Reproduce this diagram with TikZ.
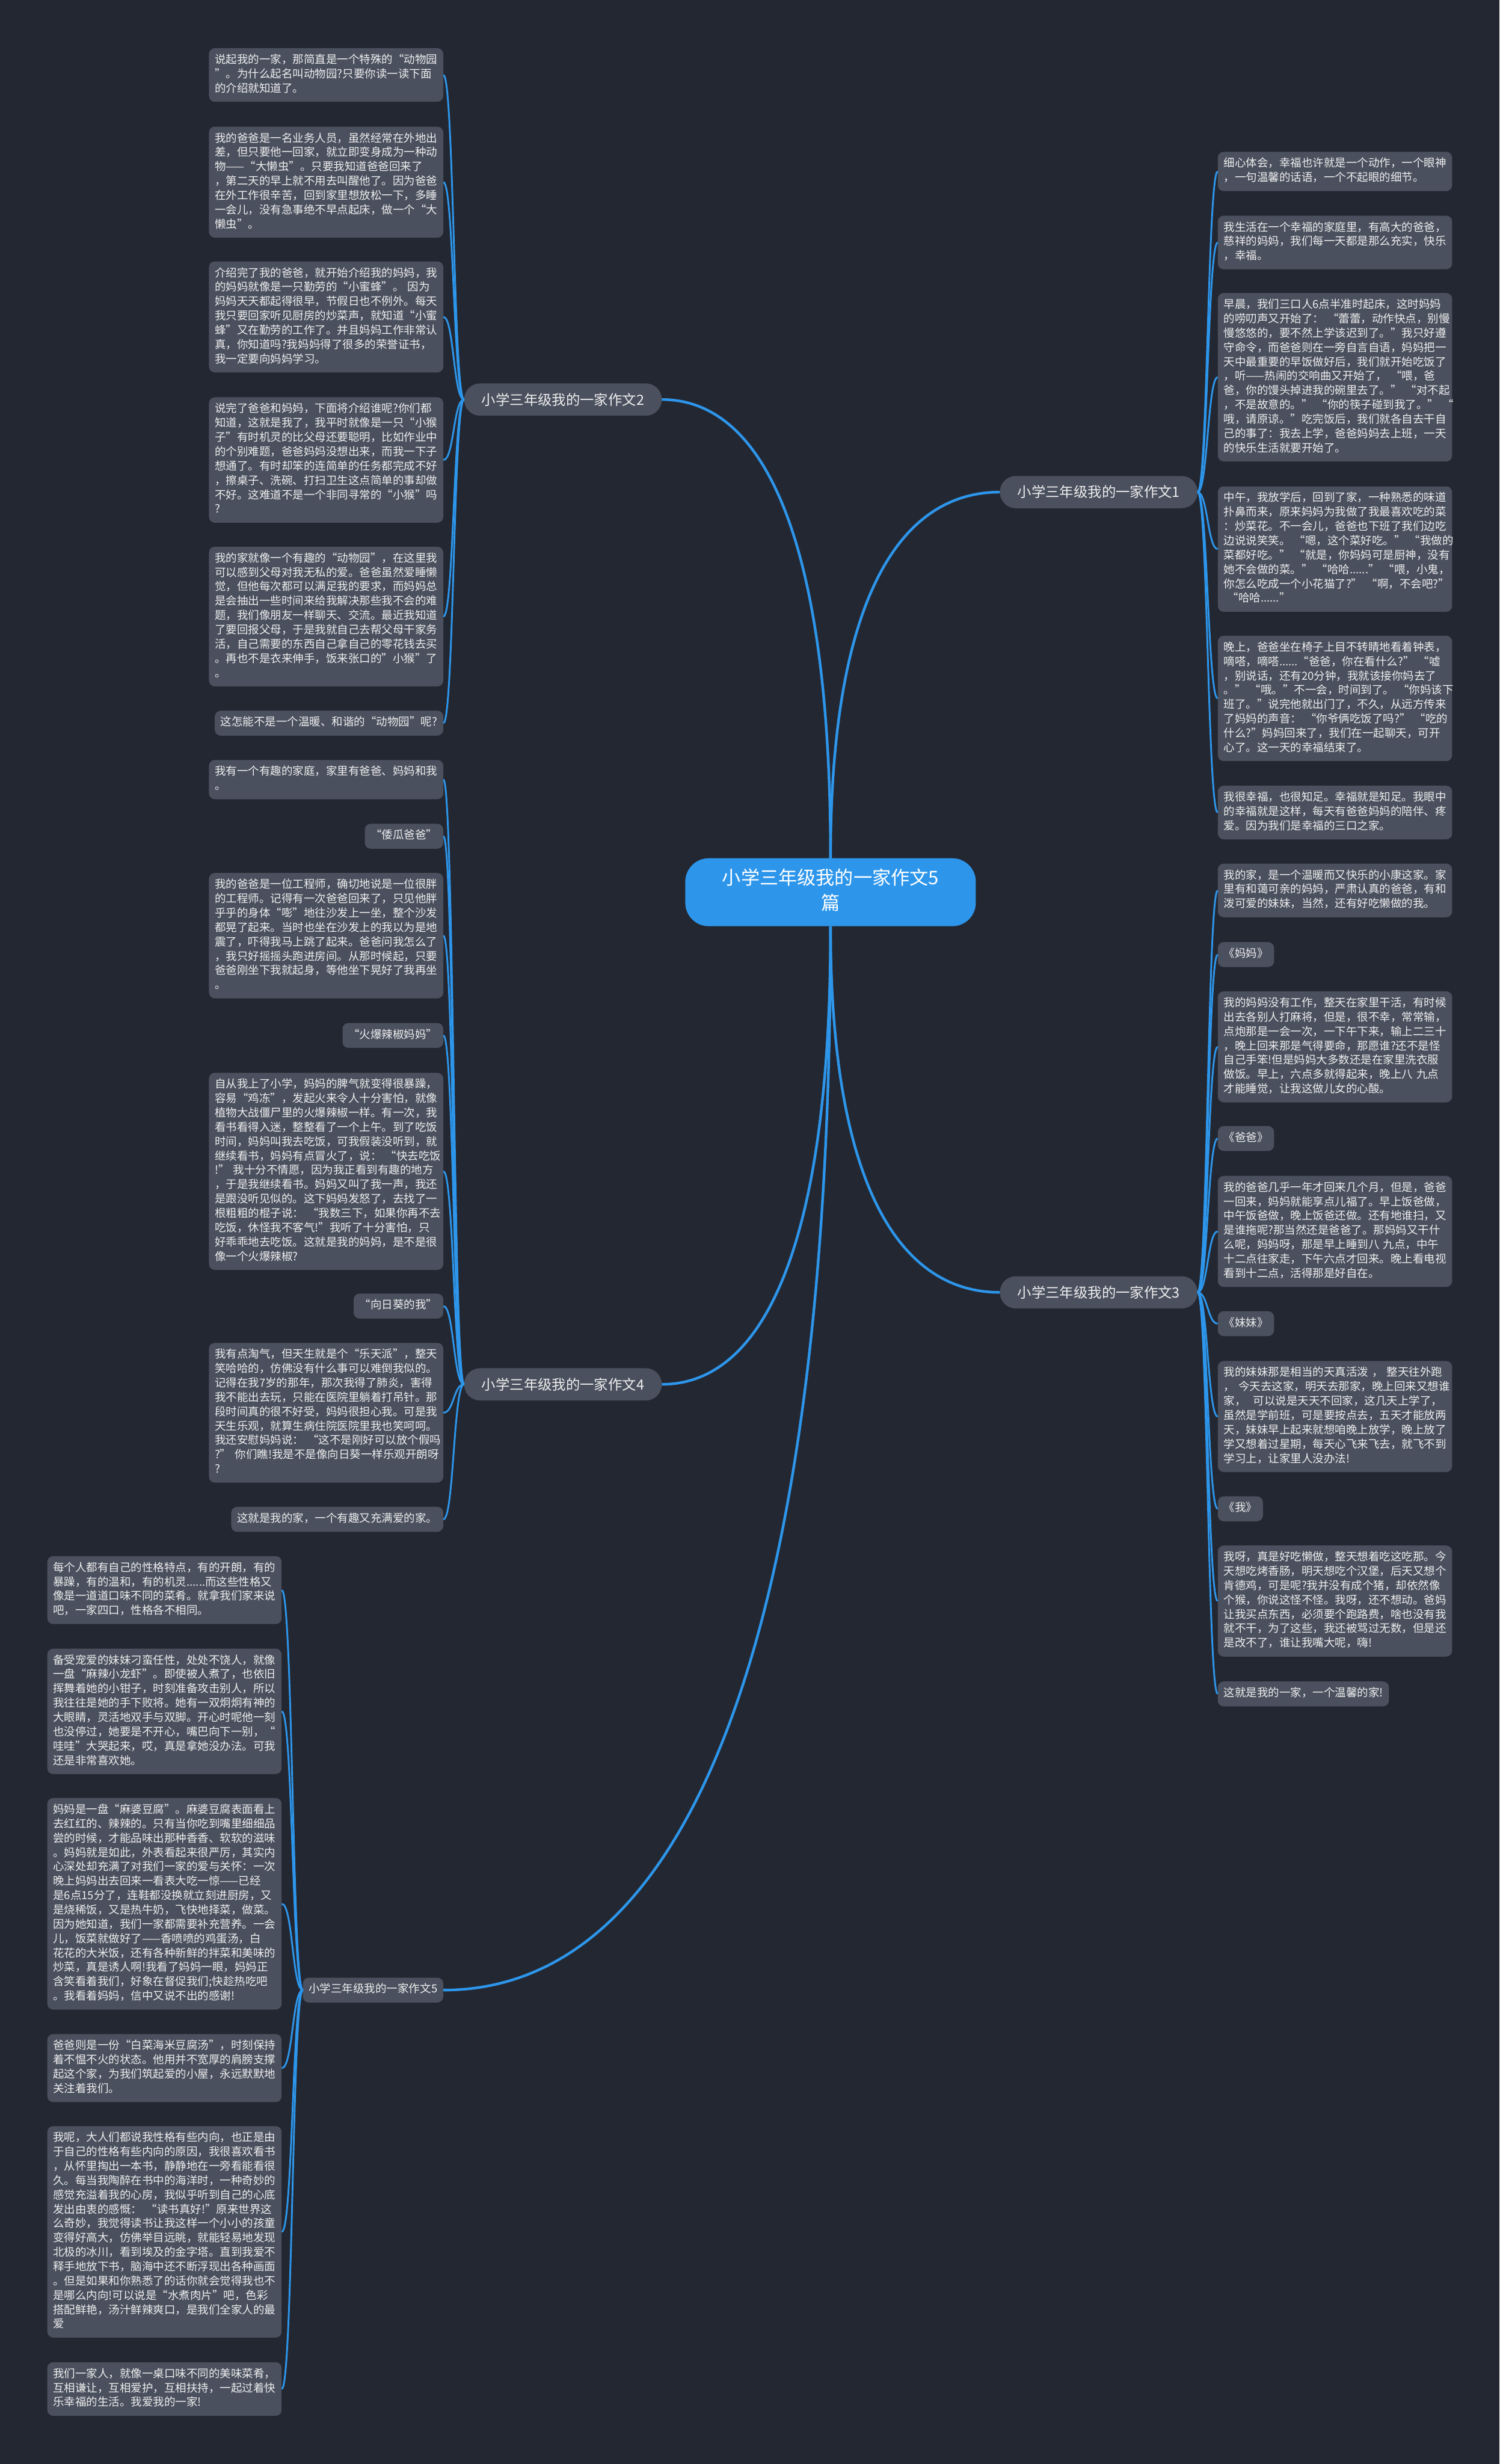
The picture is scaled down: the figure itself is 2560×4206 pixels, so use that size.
\documentclass[tikz,border=0pt]{standalone}
\usepackage{fontspec}
\setmainfont{Noto Sans CJK SC}
\usepackage{xcolor}
\usepackage{tikz}
\usetikzlibrary{calc}

\definecolor{bgdark}{HTML}{232731}
\definecolor{cardgray}{HTML}{4A505E}
\definecolor{linkblue}{HTML}{2D96EB}
\definecolor{inkwhite}{HTML}{EEEEEE}

\begin{document}
\begin{tikzpicture}[x=1pt, y=-1pt,
  card/.style={fill=cardgray, text=inkwhite, rounded corners=10pt,
    inner xsep=10pt, inner ysep=9pt, font=\fontsize{19pt}{24.5pt}\selectfont,
    execute at begin node=\strut, execute at end node=\strut},
  para/.style={card, text width=380pt, align=left},
  branch/.style={fill=cardgray, text=inkwhite, rounded corners=27pt,
    minimum height=55pt, inner xsep=30pt, inner ysep=0pt,
    font=\fontsize{24pt}{30pt}\selectfont},
  trunk/.style={draw=linkblue, line width=4.5pt},
  twig/.style={draw=linkblue, line width=3pt}]
% Coordinate model: one unit = one pixel of the 2560 x 4206 sheet, y downwards.
\def\lx{757}  % right edge of the left column cards
\def\rx{2079} % left edge of the right column cards
\def\dx{481}  % right edge of the bottom left cards

% --- Sheet ---
\useasboundingbox (0,0) rectangle (2560,4206);
\fill[bgdark] (0,0) rectangle (2560,4206);

% --- Root ---
\node[fill=linkblue, text=white, rounded corners=40pt, text width=380pt, align=center,
  inner xsep=58pt, inner ysep=15pt, font=\fontsize{32pt}{43pt}\selectfont,
  execute at begin node=\strut, execute at end node=\strut]
  (root) at (1418,1523) {小学三年级我的一家作文5\\篇};

% --- Branches ---
\node[branch, anchor=west] (p1) at (1707,840) {小学三年级我的一家作文1};
\node[branch, anchor=east] (p2) at (1130,682) {小学三年级我的一家作文2};
\node[branch, anchor=west] (p3) at (1707,2206) {小学三年级我的一家作文3};
\node[branch, anchor=east] (p4) at (1130,2363) {小学三年级我的一家作文4};
\node[card, anchor=east] (p5) at (757,3397) {小学三年级我的一家作文5};

% --- Essay 2 (left, top) ---
\node[para, anchor=north east] (l1) at (\lx,82) {说起我的一家，那简直是一个特殊的“动物园\\”。为什么起名叫动物园?只要你读一读下面\\的介绍就知道了。};
\node[para, anchor=north east] (l2) at (\lx,216) {我的爸爸是一名业务人员，虽然经常在外地出\\差，但只要他一回家，就立即变身成为一种动\\物——“大懒虫”。只要我知道爸爸回来了\\，第二天的早上就不用去叫醒他了。因为爸爸\\在外工作很辛苦，回到家里想放松一下，多睡\\一会儿，没有急事绝不早点起床，做一个“大\\懒虫”。};
\node[para, anchor=north east] (l3) at (\lx,446) {介绍完了我的爸爸，就开始介绍我的妈妈，我\\的妈妈就像是一只勤劳的“小蜜蜂”。~因为\\妈妈天天都起得很早，节假日也不例外。每天\\我只要回家听见厨房的炒菜声，就知道“小蜜\\蜂”又在勤劳的工作了。并且妈妈工作非常认\\真，你知道吗?我妈妈得了很多的荣誉证书，\\我一定要向妈妈学习。};
\node[para, anchor=north east] (l4) at (\lx,678) {说完了爸爸和妈妈，下面将介绍谁呢?你们都\\知道，这就是我了，我平时就像是一只“小猴\\子”有时机灵的比父母还要聪明，比如作业中\\的个别难题，爸爸妈妈没想出来，而我一下子\\想通了。有时却笨的连简单的任务都完成不好\\，擦桌子、洗碗、打扫卫生这点简单的事却做\\不好。这难道不是一个非同寻常的“小猴”吗\\?};
\node[para, anchor=north east] (l5) at (\lx,933) {我的家就像一个有趣的“动物园”，在这里我\\可以感到父母对我无私的爱。爸爸虽然爱睡懒\\觉，但他每次都可以满足我的要求，而妈妈总\\是会抽出一些时间来给我解决那些我不会的难\\题，我们像朋友一样聊天、交流。最近我知道\\了要回报父母，于是我就自己去帮父母干家务\\活，自己需要的东西自己拿自己的零花钱去买\\。再也不是衣来伸手，饭来张口的"小猴”了\\。};
\node[card, anchor=north east] (l6) at (\lx,1213) {这怎能不是一个温暖、和谐的“动物园”呢?};

% --- Essay 4 (left, middle) ---
\node[para, anchor=north east] (m1) at (\lx,1297) {我有一个有趣的家庭，家里有爸爸、妈妈和我\\。};
\node[card, anchor=north east] (m2) at (\lx,1406) {“倭瓜爸爸”};
\node[para, anchor=north east] (m3) at (\lx,1490) {我的爸爸是一位工程师，确切地说是一位很胖\\的工程师。记得有一次爸爸回来了，只见他胖\\乎乎的身体“嘭”地往沙发上一坐，整个沙发\\都晃了起来。当时也坐在沙发上的我以为是地\\震了，吓得我马上跳了起来。爸爸问我怎么了\\，我只好摇摇头跑进房间。从那时候起，只要\\爸爸刚坐下我就起身，等他坐下晃好了我再坐\\。};
\node[card, anchor=north east] (m4) at (\lx,1746) {“火爆辣椒妈妈”};
\node[para, anchor=north east] (m5) at (\lx,1831) {自从我上了小学，妈妈的脾气就变得很暴躁，\\容易“鸡冻”，发起火来令人十分害怕，就像\\植物大战僵尸里的火爆辣椒一样。有一次，我\\看书看得入迷，整整看了一个上午。到了吃饭\\时间，妈妈叫我去吃饭，可我假装没听到，就\\继续看书，妈妈有点冒火了，说：~“快去吃饭\\!”~我十分不情愿，因为我正看到有趣的地方\\，于是我继续看书。妈妈又叫了我一声，我还\\是跟没听见似的。这下妈妈发怒了，去找了一\\根粗粗的棍子说：~“我数三下，如果你再不去\\吃饭，休怪我不客气!”我听了十分害怕，只\\好乖乖地去吃饭。这就是我的妈妈，是不是很\\像一个火爆辣椒?};
\node[card, anchor=north east] (m6) at (\lx,2208) {“向日葵的我”};
\node[para, anchor=north east] (m7) at (\lx,2292) {我有点淘气，但天生就是个“乐天派”，整天\\笑哈哈的，仿佛没有什么事可以难倒我似的。\\记得在我7岁的那年，那次我得了肺炎，害得\\我不能出去玩，只能在医院里躺着打吊针。那\\段时间真的很不好受，妈妈很担心我。可是我\\天生乐观，就算生病住院医院里我也笑呵呵。\\我还安慰妈妈说：~“这不是刚好可以放个假吗\\?”~你们瞧!我是不是像向日葵一样乐观开朗呀\\?};
\node[card, anchor=north east] (m8) at (\lx,2572) {这就是我的家，一个有趣又充满爱的家。};

% --- Essay 1 (right, top) ---
\node[para, anchor=north west] (r1) at (\rx,259) {细心体会，幸福也许就是一个动作，一个眼神\\，一句温馨的话语，一个不起眼的细节。};
\node[para, anchor=north west] (r2) at (\rx,368) {我生活在一个幸福的家庭里，有高大的爸爸，\\慈祥的妈妈，我们每一天都是那么充实，快乐\\，幸福。};
\node[para, anchor=north west] (r3) at (\rx,500) {早晨，我们三口人6点半准时起床，这时妈妈\\的唠叨声又开始了：~“蕾蕾，动作快点，别慢\\慢悠悠的，要不然上学该迟到了。”我只好遵\\守命令，而爸爸则在一旁自言自语，妈妈把一\\天中最重要的早饭做好后，我们就开始吃饭了\\，听——热闹的交响曲又开始了，~“喂，爸\\爸，你的馒头掉进我的碗里去了。”~“对不起\\，不是故意的。”~“你的筷子碰到我了。”~“\\哦，请原谅。”吃完饭后，我们就各自去干自\\己的事了：我去上学，爸爸妈妈去上班，一天\\的快乐生活就要开始了。};
\node[para, anchor=north west] (r4) at (\rx,830) {中午，我放学后，回到了家，一种熟悉的味道\\扑鼻而来，原来妈妈为我做了我最喜欢吃的菜\\：炒菜花。不一会儿，爸爸也下班了我们边吃\\边说说笑笑。~“嗯，这个菜好吃。”~“我做的\\菜都好吃。”~“就是，你妈妈可是厨神，没有\\她不会做的菜。”~“哈哈......”~“喂，小鬼，\\你怎么吃成一个小花猫了?”~“啊，不会吧?”\\~“哈哈......”};
\node[para, anchor=north west] (r5) at (\rx,1085) {晚上，爸爸坐在椅子上目不转睛地看着钟表，\\嘀嗒，嘀嗒......“爸爸，你在看什么?”~“嘘\\，别说话，还有20分钟，我就该接你妈去了\\。”~“哦。”不一会，时间到了。~“你妈该下\\班了。”说完他就出门了，不久，从远方传来\\了妈妈的声音：~“你爷俩吃饭了吗?”~“吃的\\什么?”妈妈回来了，我们在一起聊天，可开\\心了。这一天的幸福结束了。};
\node[para, anchor=north west] (r6) at (\rx,1341) {我很幸福，也很知足。幸福就是知足。我眼中\\的幸福就是这样，每天有爸爸妈妈的陪伴、疼\\爱。因为我们是幸福的三口之家。};

% --- Essay 3 (right, bottom) ---
\node[para, anchor=north west] (s1) at (\rx,1474) {我的家，是一个温暖而又快乐的小康这家。家\\里有和蔼可亲的妈妈，严肃认真的爸爸，有和\\泼可爱的妹妹，当然，还有好吃懒做的我。};
\node[card, anchor=north west] (s2) at (\rx,1608) {《妈妈》};
\node[para, anchor=north west] (s3) at (\rx,1692) {我的妈妈没有工作，整天在家里干活，有时候\\出去各别人打麻将，但是，很不幸，常常输，\\点炮那是一会一次，一下午下来，输上二三十\\，晚上回来那是气得要命，那愿谁?还不是怪\\自己手笨!但是妈妈大多数还是在家里洗衣服\\做饭。早上，六点多就得起来，晚上八~九点\\才能睡觉，让我这做儿女的心酸。};
\node[card, anchor=north west] (s4) at (\rx,1922) {《爸爸》};
\node[para, anchor=north west] (s5) at (\rx,2007) {我的爸爸几乎一年才回来几个月，但是，爸爸\\一回来，妈妈就能享点儿福了。早上饭爸做，\\中午饭爸做，晚上饭爸还做。还有地谁扫，又\\是谁拖呢?那当然还是爸爸了。那妈妈又干什\\么呢，妈妈呀，那是早上睡到八~九点，中午\\十二点往家走，下午六点才回来。晚上看电视\\看到十二点，活得那是好自在。};
\node[card, anchor=north west] (s6) at (\rx,2238) {《妹妹》};
\node[para, anchor=north west] (s7) at (\rx,2323) {我的妹妹那是相当的天真活泼~，~整天往外跑\\，~今天去这家，明天去那家，晚上回来又想谁\\家，~~可以说是天天不回家，这几天上学了，\\虽然是学前班，可是要按点去，五天才能放两\\天，妹妹早上起来就想咱晚上放学，晚上放了\\学又想着过星期，每天心飞来飞去，就飞不到\\学习上，让家里人没办法!};
\node[card, anchor=north west] (s8) at (\rx,2554) {《我》};
\node[para, anchor=north west] (s9) at (\rx,2638) {我呀，真是好吃懒做，整天想着吃这吃那。今\\天想吃烤香肠，明天想吃个汉堡，后天又想个\\肯德鸡，可是呢?我并没有成个猪，却依然像\\个猴，你说这怪不怪。我呀，还不想动。爸妈\\让我买点东西，必须要个跑路费，啥也没有我\\就不干，为了这些，我还被骂过无数，但是还\\是改不了，谁让我嘴大呢，嗨!};
\node[card, anchor=north west] (s10) at (\rx,2870) {这就是我的一家，一个温馨的家!};

% --- Essay 5 (bottom left) ---
\node[para, anchor=north east] (d1) at (\dx,2656) {每个人都有自己的性格特点，有的开朗，有的\\暴躁，有的温和，有的机灵......而这些性格又\\像是一道道口味不同的菜肴。就拿我们家来说\\吧，一家四口，性格各不相同。};
\node[para, anchor=north east] (d2) at (\dx,2814) {备受宠爱的妹妹刁蛮任性，处处不饶人，就像\\一盘“麻辣小龙虾”。即使被人煮了，也依旧\\挥舞着她的小钳子，时刻准备攻击别人，所以\\我往往是她的手下败将。她有一双炯炯有神的\\大眼睛，灵活地双手与双脚。开心时呢他一刻\\也没停过，她要是不开心，嘴巴向下一别，“\\哇哇”大哭起来，哎，真是拿她没办法。可我\\还是非常喜欢她。};
\node[para, anchor=north east] (d3) at (\dx,3069) {妈妈是一盘“麻婆豆腐”。麻婆豆腐表面看上\\去红红的、辣辣的。只有当你吃到嘴里细细品\\尝的时候，才能品味出那种香香、软软的滋味\\。妈妈就是如此，外表看起来很严厉，其实内\\心深处却充满了对我们一家的爱与关怀：一次\\晚上妈妈出去回来一看表大吃一惊——已经\\是6点15分了，连鞋都没换就立刻进厨房，又\\是烧稀饭，又是热牛奶，飞快地择菜，做菜。\\因为她知道，我们一家都需要补充营养。一会\\儿，饭菜就做好了——香喷喷的鸡蛋汤，白\\花花的大米饭，还有各种新鲜的拌菜和美味的\\炒菜，真是诱人啊!我看了妈妈一眼，妈妈正\\含笑看着我们，好象在督促我们;快趁热吃吧\\。我看着妈妈，信中又说不出的感谢!};
\node[para, anchor=north east] (d4) at (\dx,3472) {爸爸则是一份“白菜海米豆腐汤”，时刻保持\\着不愠不火的状态。他用并不宽厚的肩膀支撑\\起这个家，为我们筑起爱的小屋，永远默默地\\关注着我们。};
\node[para, anchor=north east] (d5) at (\dx,3629) {我呢，大人们都说我性格有些内向，也正是由\\于自己的性格有些内向的原因，我很喜欢看书\\，从怀里掏出一本书，静静地在一旁看能看很\\久。每当我陶醉在书中的海洋时，一种奇妙的\\感觉充溢着我的心房，我似乎听到自己的心底\\发出由衷的感慨：~“读书真好!”原来世界这\\么奇妙，我觉得读书让我这样一个小小的孩童\\变得好高大，仿佛举目远眺，就能轻易地发现\\北极的冰川，看到埃及的金字塔。直到我爱不\\释手地放下书，脑海中还不断浮现出各种画面\\。但是如果和你熟悉了的话你就会觉得我也不\\是哪么内向!可以说是“水煮肉片”吧，色彩\\搭配鲜艳，汤汁鲜辣爽口，是我们全家人的最\\爱};
\node[para, anchor=north east] (d6) at (\dx,4032) {我们一家人，就像一桌口味不同的美味菜肴，\\互相谦让，互相爱护，互相扶持，一起过着快\\乐幸福的生活。我爱我的一家!};

% --- Root to branches ---
\foreach \p/\a/\s in {p2/east/north, p1/west/north, p4/east/south, p3/west/south, p5/east/south}
  \draw[trunk] (root.\s) .. controls ($(root.\s)!.7!(root.\s |- \p.\a)$)
    and ($(\p.\a)!.6!(root.\s |- \p.\a)$) .. (\p.\a);

% --- Branches to cards ---
\foreach \i in {1,...,6}
  \draw[twig] (p2.west) .. controls +(-18,0) and +(18,0) .. (l\i.east);
\foreach \i in {1,...,8}
  \draw[twig] (p4.west) .. controls +(-18,0) and +(18,0) .. (m\i.east);
\foreach \i in {1,...,6}
  \draw[twig] (p1.east) .. controls +(17,0) and +(-17,0) .. (r\i.west);
\foreach \i in {1,...,10}
  \draw[twig] (p3.east) .. controls +(17,0) and +(-17,0) .. (s\i.west);
\foreach \i in {1,...,6}
  \draw[twig] (p5.west) .. controls +(-18,0) and +(19,0) .. (d\i.east);
\end{tikzpicture}
\end{document}
